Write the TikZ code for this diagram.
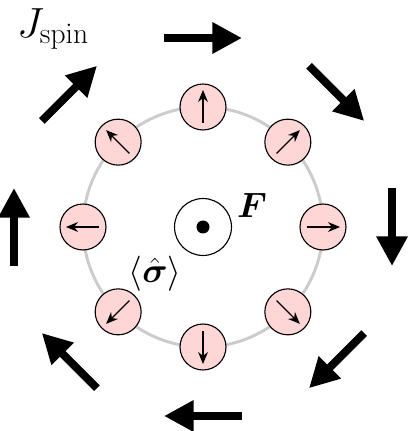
\RequirePackage{fix-cm}
\documentclass[tikz,border=0pt]{standalone}
\usepackage{amsmath}
\usetikzlibrary{arrows.meta}
\usetikzlibrary{positioning}

\definecolor{pinkfill}{RGB}{255,214,214}

\begin{document}
\begin{tikzpicture}[x=0.025cm,y=0.025cm,
  spinball/.style={circle,draw=black,line width=0.8pt,fill=pinkfill,minimum size=32.7pt,inner sep=0pt},
  spinarrow/.style={line width=0.8pt,-{Stealth[length=8.5pt,width=7pt]}},
  flowarrow/.style={line width=5.7pt,-{Triangle[length=21pt,width=21pt]}},
  biglabel/.style={font=\fontsize{25}{30}\selectfont,inner sep=0pt}]
\useasboundingbox (-203,-204) rectangle (204,227);

\draw[gray!40,line width=2.1pt] (0,0) circle (120);

\node[circle,draw=black,line width=0.8pt,minimum size=40.5pt,inner sep=0pt] (F0) at (0,0) {};
\fill[black] (F0.center) circle (6.5);

\node[spinball] (s1) at (90:120) {};
\node[spinball] (s2) at (45:120) {};
\node[spinball] (s3) at (0:120) {};
\node[spinball] (s4) at (-45:120) {};
\node[spinball] (s5) at (-90:120) {};
\node[spinball] (s6) at (-135:120) {};
\node[spinball] (s7) at (180:120) {};
\node[spinball] (s8) at (135:120) {};

\draw[spinarrow] (90:104) -- (90:137);
\draw[spinarrow] (45:104) -- (45:137);
\draw[spinarrow] (0:104) -- (0:137);
\draw[spinarrow] (-45:104) -- (-45:137);
\draw[spinarrow] (-90:104) -- (-90:137);
\draw[spinarrow] (-135:104) -- (-135:137);
\draw[spinarrow] (180:104) -- (180:137);
\draw[spinarrow] (135:104) -- (135:137);

\draw[flowarrow] (-39,189) -- (39,189);
\draw[flowarrow] (106,161.2) -- (161.2,106);
\draw[flowarrow] (189,39) -- (189,-39);
\draw[flowarrow] (161.2,-106) -- (106,-161.2);
\draw[flowarrow] (39,-189) -- (-39,-189);
\draw[flowarrow] (-106,-161.2) -- (-161.2,-106);
\draw[flowarrow] (-189,-39) -- (-189,39);
\draw[flowarrow] (-161.2,106) -- (-106,161.2);

\node[biglabel,font=\fontsize{30}{36}\selectfont] (Jlab) at (-150,198) {$J_{\mathrm{spin}}$};
\node[biglabel] (Flab) at (49,22) {$\boldsymbol{F}$};
\node[biglabel] (sigmalab) at (-48,-47) {$\langle\hat{\boldsymbol{\sigma}}\rangle$};

\end{tikzpicture}
\end{document}
